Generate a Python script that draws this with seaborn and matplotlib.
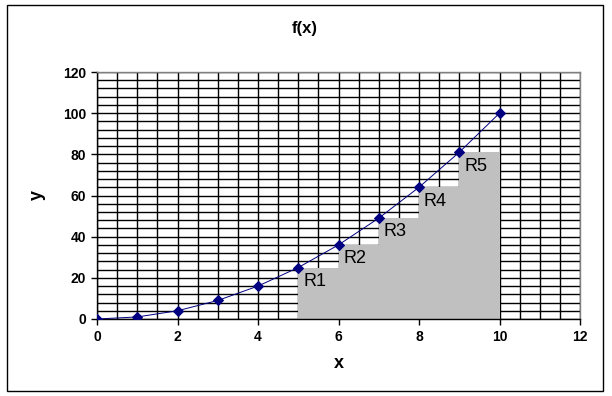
import matplotlib
matplotlib.use("Agg")
import matplotlib.pyplot as plt
from matplotlib.patches import Rectangle
from matplotlib.ticker import MultipleLocator
import seaborn as sns
import pandas as pd

# data
x_vals = [0, 1, 2, 3, 4, 5, 6, 7, 8, 9, 10]
y_vals = [0, 1, 4, 9, 16, 25, 36, 49, 64, 81, 100]
rect_left = [5, 6, 7, 8, 9]
rect_height = [25, 36, 49, 64, 81]
rect_labels = ["R1", "R2", "R3", "R4", "R5"]
title = "f(x)"
xlabel = "x"
ylabel = "y"

sns.set_theme(style="white")
plt.rcParams["font.family"] = ["Liberation Sans", "DejaVu Sans"]
plt.rcParams["text.color"] = "black"
plt.rcParams["axes.labelcolor"] = "black"
plt.rcParams["xtick.color"] = "black"
plt.rcParams["ytick.color"] = "black"

fig = plt.figure(figsize=(6.12, 3.96), dpi=100)
fig.patch.set_facecolor("white")
ax = fig.add_axes([97 / 612, 1 - 319 / 396, (580 - 97) / 612, (319 - 72) / 396])

ax.set_xlim(0, 12)
ax.set_ylim(0, 120)
ax.xaxis.set_major_locator(MultipleLocator(2))
ax.xaxis.set_minor_locator(MultipleLocator(0.5))
ax.yaxis.set_major_locator(MultipleLocator(20))
ax.yaxis.set_minor_locator(MultipleLocator(4))
ax.grid(True, which="both", color="black", linewidth=1.0)
ax.set_axisbelow(True)

ax.bar(rect_left, rect_height, width=1, align="edge", color="#C0C0C0",
       edgecolor="none", zorder=2)
for xl, h, lab in zip(rect_left, rect_height, rect_labels):
    ax.text(xl + 0.12, h - 2.6, lab, ha="left", va="top", fontsize=13,
            color="black", zorder=4)

df = pd.DataFrame({"x": x_vals, "y": y_vals})
sns.lineplot(data=df, x="x", y="y", ax=ax, color="#000080", linewidth=0.7,
             marker="D", markersize=5, markeredgecolor="#000080", zorder=3)

ax.tick_params(axis="both", which="major", direction="out", length=4, width=1,
               color="black", labelcolor="black", labelsize=10, pad=4,
               bottom=True, left=True)
ax.tick_params(axis="both", which="minor", length=0)
for lab in ax.get_xticklabels() + ax.get_yticklabels():
    lab.set_fontweight("bold")

for side in ["left", "bottom"]:
    ax.spines[side].set_color("black")
    ax.spines[side].set_linewidth(1)
for side in ["top", "right"]:
    ax.spines[side].set_color("#808080")
    ax.spines[side].set_linewidth(1)

ax.set_xlabel(xlabel, fontsize=13, fontweight="bold", labelpad=8, color="black")
ax.set_ylabel(ylabel, fontsize=13, fontweight="bold", labelpad=12, color="black")
fig.text(305 / 612, 1 - 28 / 396, title, ha="center", va="center",
         fontsize=12, fontweight="bold", color="black")

fig.patches.append(Rectangle((7 / 612, 1 - 391 / 396), (603 - 7) / 612,
                             (391 - 5) / 396, transform=fig.transFigure,
                             fill=False, edgecolor="black", linewidth=1))

fig.savefig("out.png", dpi=100, facecolor="white")
